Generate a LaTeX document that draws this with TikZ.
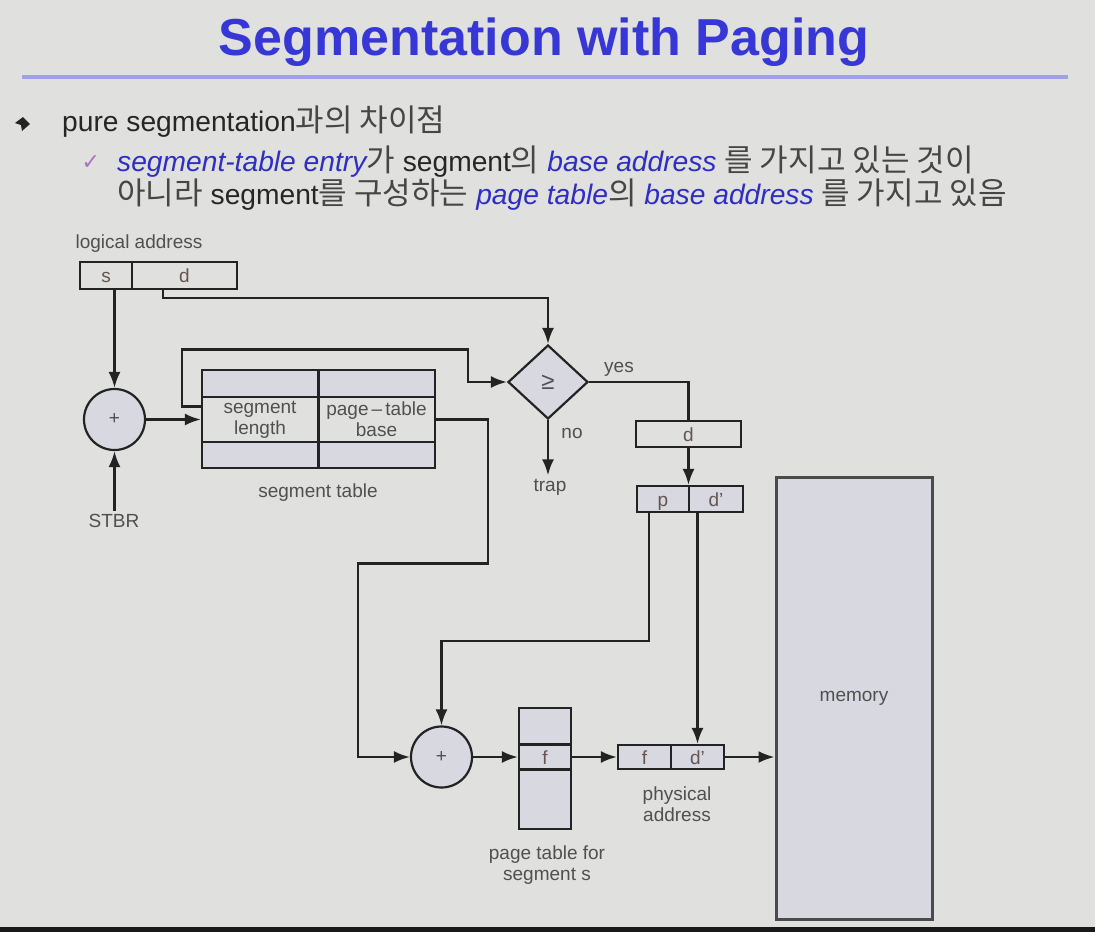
\documentclass[tikz,border=0pt]{standalone}
\usepackage{fontspec}
\setmainfont{Liberation Sans}
\newfontfamily\krfont[Scale=1.1]{Noto Sans CJK KR}
\newfontfamily\symfont{DejaVu Sans}
\usepackage{tikz}
\usetikzlibrary{shapes.geometric,arrows.meta}

\definecolor{slidebg}{RGB}{224,224,222}
\definecolor{cellfill}{RGB}{216,216,224}
\definecolor{linegray}{RGB}{35,35,35}
\definecolor{labelgray}{RGB}{80,80,80}
\definecolor{celltext}{RGB}{100,85,80}
\definecolor{titleblue}{RGB}{55,55,215}
\definecolor{titleline}{RGB}{160,160,228}
\definecolor{hiblue}{RGB}{45,45,200}
\definecolor{krgray}{RGB}{70,70,70}
\definecolor{checkpurple}{RGB}{175,110,200}
\definecolor{memgray}{RGB}{75,75,75}
\definecolor{barblack}{RGB}{25,25,25}

\newcommand{\kr}[1]{{\krfont\color{krgray}#1}}
\newcommand{\hi}[1]{{\color{hiblue}\itshape #1}}

\begin{document}
\begin{tikzpicture}[x=1pt, y=-1pt,
    every node/.style={font=\fontsize{19}{21}\selectfont, text=labelgray},
    row/.style={draw=linegray, line width=2.2pt, fill=cellfill, inner sep=0pt},
    cell/.style={row, text=celltext, text height=15pt, text depth=1pt},
    plain/.style={cell, fill=slidebg},
    adder/.style={circle, draw=linegray, line width=2.2pt, fill=cellfill, minimum size=61pt, inner sep=0pt},
    slide/.style={anchor=base west, inner sep=0pt, font=\fontsize{28.2}{32}\selectfont, text=black!85},
    arr/.style={-{Latex[length=16pt,width=12pt]}, line width=2.4pt, draw=linegray},
    wire/.style={line width=2.4pt, draw=linegray}]
    \fill[slidebg] (0,0) rectangle (1095,932);
    \useasboundingbox (0,0) rectangle (1095,932);
    \fill[barblack] (0,927) rectangle (1095,932);

    % heading
    \node[anchor=base, font=\fontsize{52}{60}\selectfont\bfseries, text=titleblue] (title) at (544,55) {Segmentation with Paging};
    \draw[titleline, line width=4pt] (22,77) -- (1068,77);
    \fill[linegray] (15,123) -- (23,117) -- (30,124) -- (22,131) -- (21,125) -- cycle;
    \node[slide] (line1) at (62,131) {pure segmentation\kr{과의 차이점}};
    \node[anchor=base west, font=\fontsize{22}{26}\selectfont\symfont, text=checkpurple] (chk) at (78,169) {✓};
    \node[slide] (line2) at (117,171)
        {\hi{segment-table entry}\kr{가} segment\kr{의} \hi{base address} \kr{를 가지고 있는 것이}};
    \node[slide] (line3) at (117,204)
        {\kr{아니라} segment\kr{를 구성하는} \hi{page table}\kr{의} \hi{base address} \kr{를 가지고 있음}};

    % logical address and segment table
    \node (lalbl) at (139,244) {logical address};
    \node[plain, minimum width=52pt, minimum height=27pt] (las) at (106,275.5) {s};
    \node[plain, minimum width=105pt, minimum height=27pt] (lad) at (184.5,275.5) {d};
    \node[adder] (add1) at (114.5,419.5) {+};
    \node (stbr) at (114,521) {STBR};
    \node[row, minimum width=233pt, minimum height=98pt] (segtab) at (318.5,419) {};
    \node[row, fill=slidebg, minimum width=116pt, minimum height=45pt, align=center] (stlen) at (260,419.5) {segment\\length};
    \node[row, fill=slidebg, minimum width=117pt, minimum height=45pt, align=center] (stbase) at (376.5,419.5) {page\,--\,table\\base};
    \draw[wire] (segtab.north) -- (segtab.south);
    \node (stlbl) at (318,493) {segment table};

    % limit check
    \node[diamond, draw=linegray, line width=2.2pt, fill=cellfill, minimum width=80pt, minimum height=74pt, inner sep=0pt, aspect=1.08, font=\fontsize{24}{24}\selectfont] (cmp) at (548,382) {≥};
    \node (yes) at (619,369) {yes};
    \node (no) at (572,433) {no};
    \node (trap) at (550,487) {trap};
    \node[plain, minimum width=105pt, minimum height=26pt] (doff) at (688.5,434) {d};
    \node[cell, minimum width=52pt, minimum height=26pt] (pcell) at (663,499) {p};
    \node[cell, minimum width=54pt, minimum height=26pt] (dp) at (716,499) {d’};

    % page table and memory
    \node[adder] (add2) at (441.5,757) {+};
    \node[row, minimum width=52pt, minimum height=121pt] (pgtab) at (545,768.5) {};
    \node[cell, minimum width=52pt, minimum height=25pt] (ptf) at (545,757) {f};
    \node[align=center] (ptlbl) at (547,865) {page table for\\segment s};
    \node[cell, minimum width=53pt, minimum height=24pt] (pf) at (644.5,757) {f};
    \node[cell, minimum width=53pt, minimum height=24pt] (pd) at (697.5,757) {d’};
    \node[align=center] (phlbl) at (677,804) {physical\\address};
    \node[row, draw=memgray, line width=3pt, minimum width=156pt, minimum height=442pt, text=labelgray] (mem) at (854,698) {memory};

    % connectors
    \draw[arr] (add1.north |- las.south) -- (add1.north);
    \draw[arr] (add1.south |- stbr.north) -- (add1.south);
    \draw[arr] (add1.east) -- (add1.east -| stlen.west);
    \draw[arr] ([xshift=-21.5pt]lad.south) -- ++(0,8) -| (cmp.north);
    \draw[arr] ([yshift=13pt]stlen.west) -- ++(-19,0) -- ++(0,-57) -- ++(286,0) |- (cmp.west);
    \draw[wire] (cmp.east) -| (doff.north);
    \draw[arr] (cmp.south) -- (cmp.south |- trap.north);
    \draw[arr] (doff.south) -- (doff.south |- pcell.north);
    \draw[arr] (stbase.east) -- ++(52,0) -- ++(0,144) -- ++(-130,0) |- (add2.west);
    \draw[arr] ([xshift=-14pt]pcell.south) -- ++(0,128) -| (add2.north);
    \draw[arr] (add2.east) -- (ptf.west);
    \draw[arr] (ptf.east) -- (pf.west);
    \draw[arr] (pd.north |- dp.south) -- (pd.north);
    \draw[arr] (pd.east) -- (pd.east -| mem.west);
\end{tikzpicture}
\end{document}
